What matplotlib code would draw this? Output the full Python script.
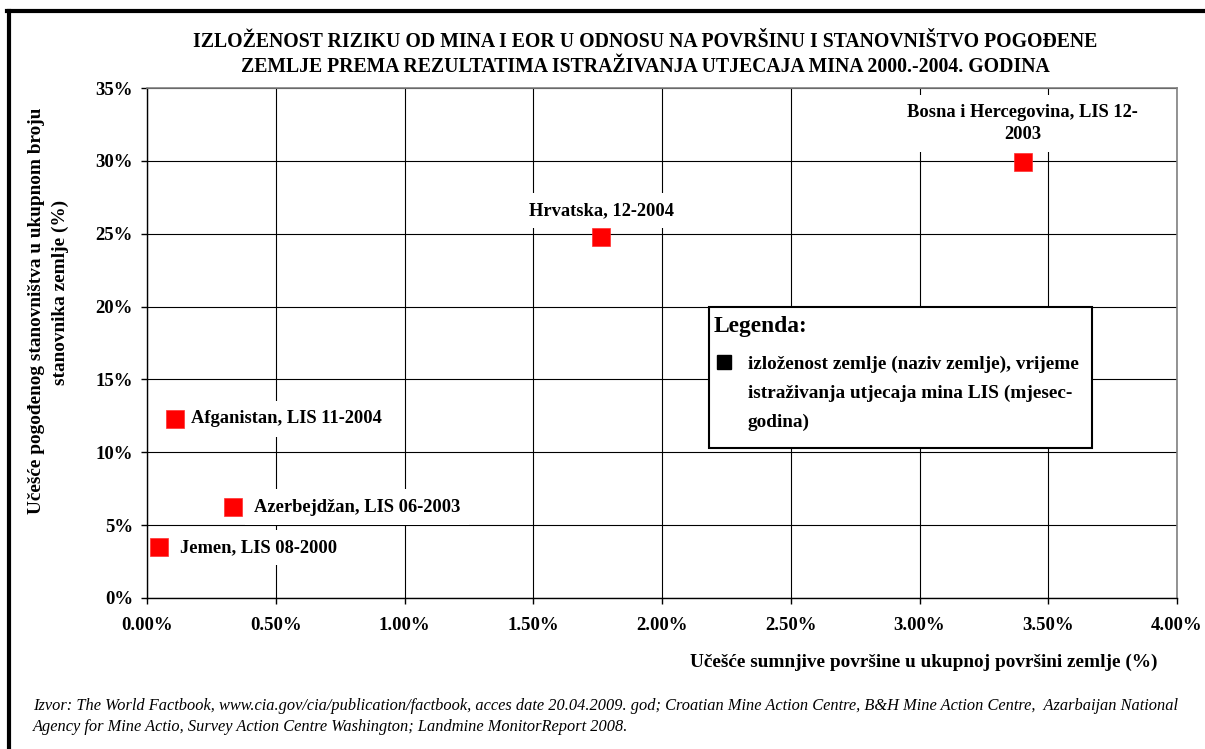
import matplotlib
matplotlib.use("Agg")
import matplotlib.pyplot as plt
from matplotlib.lines import Line2D
from matplotlib.patches import Rectangle

plt.rcParams['font.family'] = ['Liberation Serif', 'DejaVu Serif']
plt.rcParams['font.weight'] = 'bold'

# data (percent)
countries = ["Jemen, LIS 08-2000", "Afganistan, LIS 11-2004", "Azerbejdžan, LIS 06-2003",
             "Hrvatska, 12-2004", "Bosna i Hercegovina, LIS 12-\n2003"]
area_share = [0.047, 0.11, 0.334, 1.764, 3.40]
pop_share = [3.48, 12.3, 6.24, 24.8, 29.9]

x_ticks = [0, 0.5, 1.0, 1.5, 2.0, 2.5, 3.0, 3.5, 4.0]
x_labels = ["0.00%", "0.50%", "1.00%", "1.50%", "2.00%", "2.50%", "3.00%", "3.50%", "4.00%"]
y_ticks = [0, 5, 10, 15, 20, 25, 30, 35]
y_labels = ["0%", "5%", "10%", "15%", "20%", "25%", "30%", "35%"]

title_lines = ["IZLOŽENOST RIZIKU OD MINA I EOR U ODNOSU NA POVRŠINU I STANOVNIŠTVO POGOĐENE",
               "ZEMLJE PREMA REZULTATIMA ISTRAŽIVANJA UTJECAJA MINA 2000.-2004. GODINA"]
legend_lines = ["izloženost zemlje (naziv zemlje), vrijeme",
                "istraživanja utjecaja mina LIS (mjesec-",
                "godina)"]
source_lines = ["Izvor: The World Factbook, www.cia.gov/cia/publication/factbook, acces date 20.04.2009. god; "
                "Croatian Mine Action Centre, B&H Mine Action Centre,  Azarbaijan National",
                "Agency for Mine Actio, Survey Action Centre Washington; Landmine MonitorReport 2008."]

# label offsets in points (dx, dy, ha)
offsets = [(14.8, 0, 'left'), (11, 0, 'left'), (15, 0, 'left'), (0, 18.7, 'center'), (0, 27.8, 'center')]

W, H = 1205, 749
fig = plt.figure(figsize=(W / 100, H / 100), dpi=100)
ax = fig.add_axes([147 / W, 1 - 598 / H, 1030 / W, 510 / H])

ax.plot(area_share, pop_share, 's', color='red', ms=12.5, mec='#ff3030', mew=0.5, zorder=4,
        linestyle='none')

for lab, x, y, (dx, dy, ha) in zip(countries, area_share, pop_share, offsets):
    ax.annotate(lab, (x, y), xytext=(dx, dy), textcoords='offset points', ha=ha, va='center',
                fontsize=13.3, fontweight='bold', zorder=3, linespacing=1.38,
                bbox=dict(boxstyle='square,pad=0.5', fc='white', ec='none'))

ax.set_xlim(0, 4)
ax.set_ylim(0, 35)
ax.set_xticks(x_ticks)
ax.set_xticklabels(x_labels)
ax.set_yticks(y_ticks)
ax.set_yticklabels(y_labels)
ax.tick_params(axis='x', direction='out', length=4, width=1, pad=10, labelsize=13.5)
ax.tick_params(axis='y', direction='out', length=4, width=1, pad=6, labelsize=13.5)
for lab in ax.get_xticklabels() + ax.get_yticklabels():
    lab.set_fontweight('bold')

ax.set_axisbelow(True)
ax.grid(True, color='black', linewidth=0.8)
ax.spines['top'].set_color('#808080')
ax.spines['right'].set_color('#808080')
ax.spines['top'].set_linewidth(1.2)
ax.spines['right'].set_linewidth(1.2)
ax.spines['left'].set_linewidth(1)
ax.spines['bottom'].set_linewidth(1)

ax.set_xlabel("Učešće sumnjive površine u ukupnoj površini zemlje (%)", fontsize=13.9,
              fontweight='bold', ha='right', va='center')
ax.xaxis.set_label_coords((1158 - 147) / 1030, (598 - 662) / 510)

# y label, two lines
fig.text(37 / W, 1 - 311 / H, "Učešće pogođenog stanovništva u ukupnom broju", rotation=90,
         ha='center', va='center', fontsize=13.9, fontweight='bold')
fig.text(60 / W, 1 - 292 / H, "stanovnika zemlje (%)", rotation=90,
         ha='center', va='center', fontsize=13.9, fontweight='bold')

# title
for line, yb in zip(title_lines, [47, 72]):
    fig.text(645 / W, 1 - yb / H, line, ha='center', va='baseline', fontsize=14.2, fontweight='bold')

# legend box
fig.add_artist(Rectangle((709 / W, 1 - 448 / H), 383 / W, 141 / H, transform=fig.transFigure,
                         fc='white', ec='black', lw=1.5))
fig.text(714 / W, 1 - 332 / H, "Legenda:", ha='left', va='baseline', fontsize=16.9, fontweight='bold')
fig.add_artist(Line2D([723.5 / W], [1 - 362 / H], marker='s', color='black', ms=10.5,
                      transform=fig.transFigure))
for i, line in enumerate(legend_lines):
    fig.text(748 / W, 1 - (369 + 29 * i) / H, line, ha='left', va='baseline',
             fontsize=13.9, fontweight='bold')

# source
for line, yc in zip(source_lines, [706, 727]):
    fig.text(33 / W, 1 - yc / H, line, ha='left', va='center', fontsize=11.75,
             fontweight='normal', style='italic')

# frame
fig.add_artist(Line2D([9 / W, 9 / W], [0, 1 - 11 / H], color='black', lw=3, transform=fig.transFigure))
fig.add_artist(Line2D([7.5 / W, 1], [1 - 11 / H, 1 - 11 / H], color='black', lw=3,
                      transform=fig.transFigure))

fig.savefig("out.png", dpi=100)
